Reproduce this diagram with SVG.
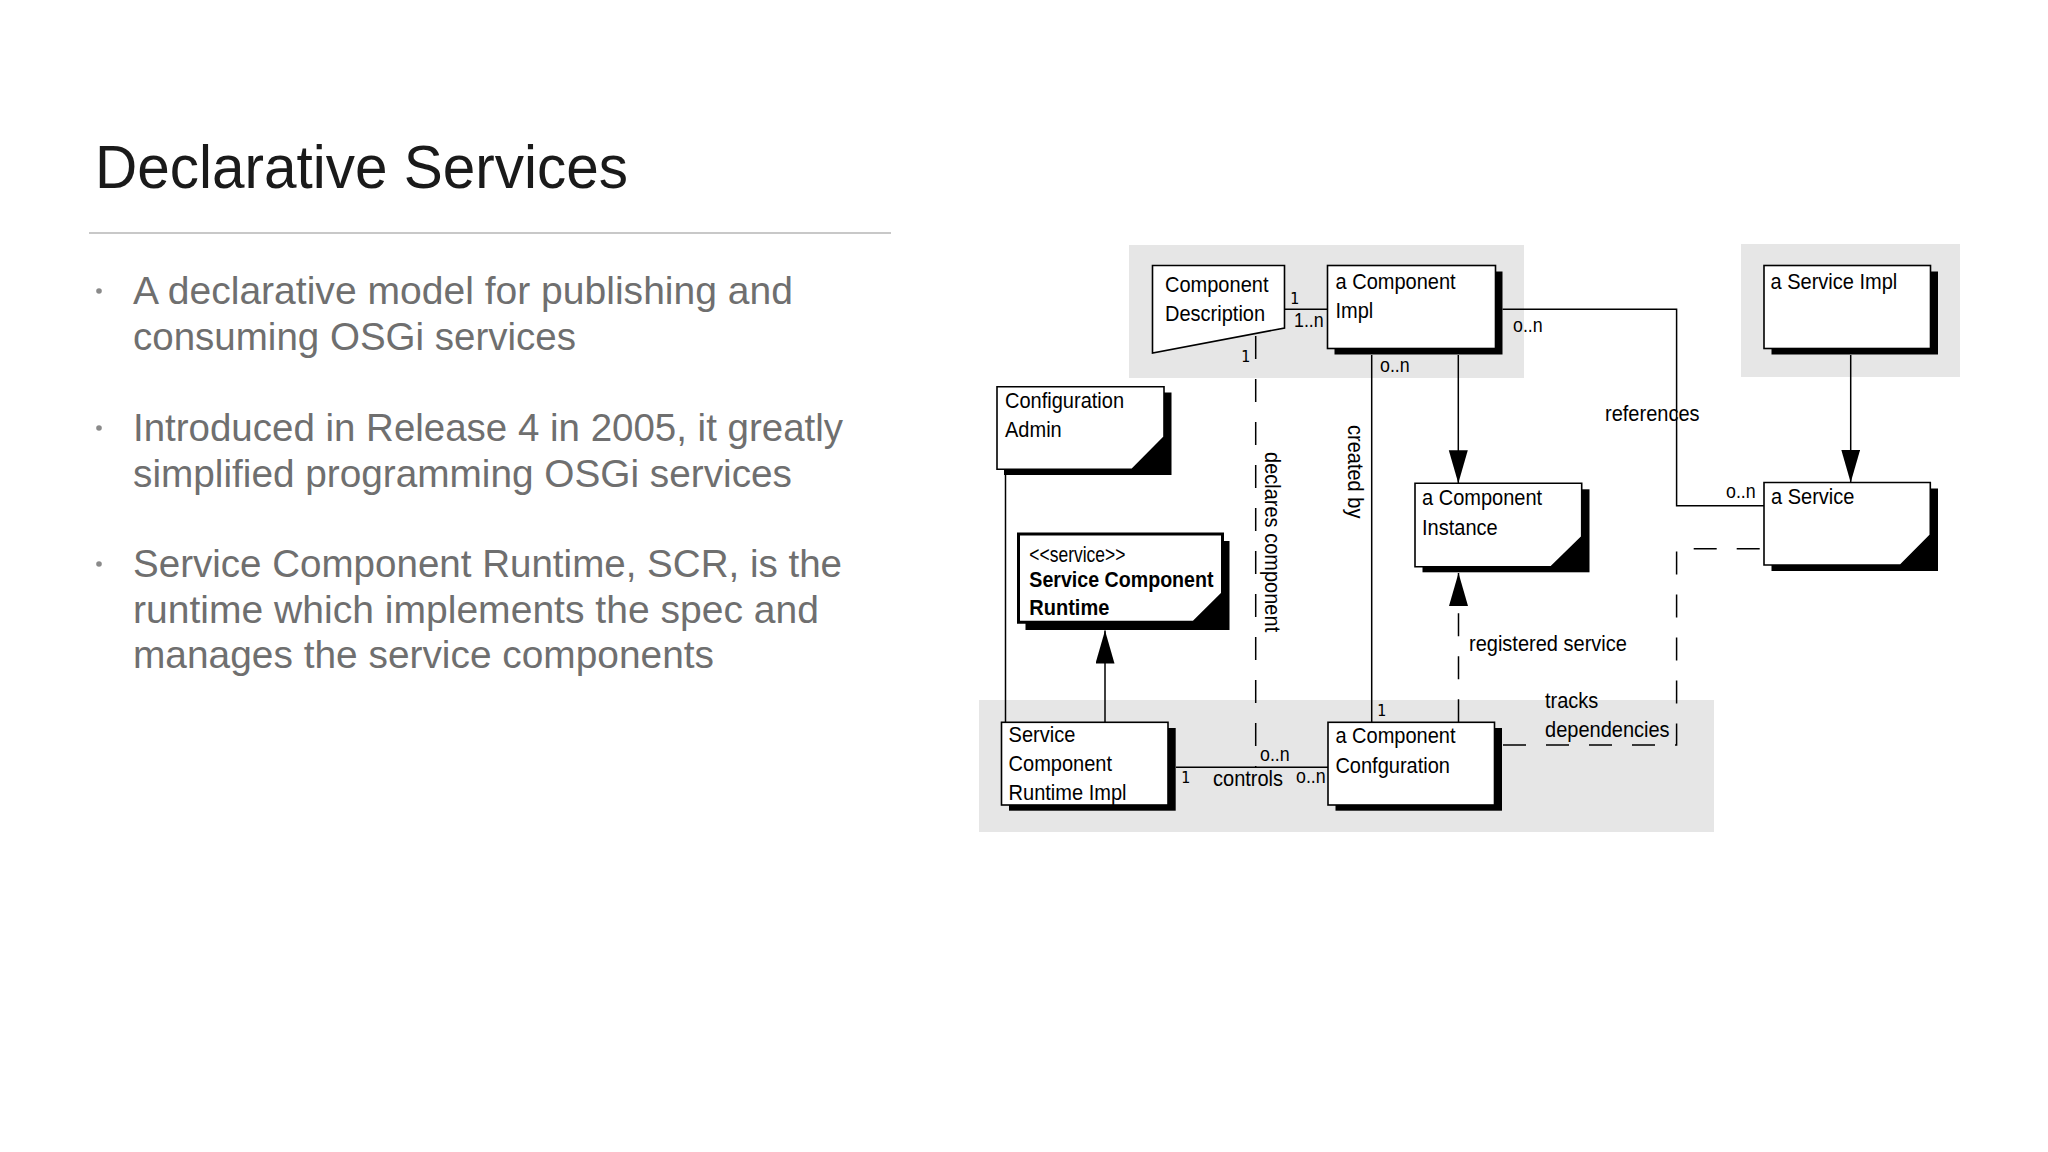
<svg xmlns="http://www.w3.org/2000/svg" width="2048" height="1152" viewBox="0 0 2048 1152">
<style>
.title{font-family:"Liberation Sans",Arial,sans-serif;font-size:62px;fill:#1a1a1a}
.body{font-family:"Liberation Sans",Arial,sans-serif;font-size:39px;fill:#6f6f6f}
.lbl{font-family:"Liberation Sans",Arial,sans-serif;font-size:22.5px;fill:#000}
.bold{font-weight:bold}
.small{font-family:"Liberation Sans",Arial,sans-serif;font-size:20px;fill:#000}
.one{font-family:"DejaVu Sans Mono","Liberation Mono",monospace;font-size:15px;fill:#000}
.box{fill:#fff;stroke:#000;stroke-width:1.6}
.thick{stroke-width:3}
.shadow{fill:#000}
.group{fill:#e6e6e6}
.line{fill:none;stroke:#000;stroke-width:1.5}
.dash{stroke-dasharray:23 20}
</style>
<defs>
<marker id="arrow" markerUnits="userSpaceOnUse" markerWidth="34" markerHeight="20" refX="33" refY="9.5" orient="auto">
<path d="M0,0 L33,9.5 L0,19 Z" fill="#000"/>
</marker>
</defs>
<rect width="2048" height="1152" fill="#fff"/>
<g id="slide-text">
<text class="title" x="95" y="188" textLength="533" lengthAdjust="spacingAndGlyphs">Declarative Services</text>
<line x1="89" y1="233" x2="891" y2="233" stroke="#c8c8c8" stroke-width="2"/>
<circle cx="99" cy="291" r="2.8" fill="#8a8a8a"/>
<text class="body" x="133" y="304" textLength="660" lengthAdjust="spacingAndGlyphs">A declarative model for publishing and</text>
<text class="body" x="133" y="349.5" textLength="443" lengthAdjust="spacingAndGlyphs">consuming OSGi services</text>
<circle cx="99" cy="428" r="2.8" fill="#8a8a8a"/>
<text class="body" x="133" y="441" textLength="710" lengthAdjust="spacingAndGlyphs">Introduced in Release 4 in 2005, it greatly</text>
<text class="body" x="133" y="486.5" textLength="659" lengthAdjust="spacingAndGlyphs">simplified programming OSGi services</text>
<circle cx="99" cy="564" r="2.8" fill="#8a8a8a"/>
<text class="body" x="133" y="577" textLength="709" lengthAdjust="spacingAndGlyphs">Service Component Runtime, SCR, is the</text>
<text class="body" x="133" y="622.5" textLength="686" lengthAdjust="spacingAndGlyphs">runtime which implements the spec and</text>
<text class="body" x="133" y="668" textLength="581" lengthAdjust="spacingAndGlyphs">manages the service components</text>
</g>
<g id="groups">
<rect class="group" x="1129" y="245" width="395" height="133"/>
<rect class="group" x="1741" y="244" width="219" height="133"/>
<rect class="group" x="979" y="700" width="735" height="132"/>
</g>
<g id="connectors">
<line class="line" x1="1284.5" y1="309.3" x2="1327.5" y2="309.3"/>
<line class="line" x1="1458.3" y1="355" x2="1458.3" y2="483.3" marker-end="url(#arrow)"/>
<polyline class="line" points="1502.5,309.3 1676.6,309.3 1676.6,505.7 1764,505.7"/>
<line class="line" x1="1850.7" y1="355" x2="1850.7" y2="482.5" marker-end="url(#arrow)"/>
<line class="line" x1="1371.7" y1="355" x2="1371.7" y2="722.3"/>
<line class="line" x1="1005.5" y1="475" x2="1005.5" y2="722.3"/>
<line class="line" x1="1105" y1="722.3" x2="1105" y2="630.5" marker-end="url(#arrow)"/>
<line class="line" x1="1176" y1="767.3" x2="1328" y2="767.3"/>
<line class="line dash" x1="1255.7" y1="336" x2="1255.7" y2="767.3"/>
<line class="line dash" x1="1458.5" y1="722.3" x2="1458.5" y2="573" marker-end="url(#arrow)"/>
<polyline class="line dash" points="1503,745 1676.6,745 1676.6,548.7 1764,548.7"/>
<text class="one" x="1290" y="304">1</text>
<text class="small" transform="translate(1294,327.3) scale(0.89,1)">1..n</text>
<text class="one" x="1241" y="361.7">1</text>
<text class="small" transform="translate(1513,331.7) scale(0.89,1)">o..n</text>
<text class="small" transform="translate(1380,371.7) scale(0.89,1)">o..n</text>
<text class="lbl" transform="translate(1605,421) scale(0.89,1)">references</text>
<text class="small" transform="translate(1726,498.3) scale(0.89,1)">o..n</text>
<text class="lbl" transform="translate(1469,651) scale(0.89,1)">registered service</text>
<text class="lbl" transform="translate(1545,708) scale(0.89,1)">tracks</text>
<text class="lbl" transform="translate(1545,737) scale(0.89,1)">dependencies</text>
<text class="one" x="1377" y="716">1</text>
<text class="small" transform="translate(1260,760.7) scale(0.89,1)">o..n</text>
<text class="one" x="1181" y="782.7">1</text>
<text class="lbl" transform="translate(1213,785.7) scale(0.89,1)">controls</text>
<text class="small" transform="translate(1296,782.7) scale(0.89,1)">o..n</text>
<text class="lbl" transform="translate(1348,425) rotate(90) scale(0.89,1)">created by</text>
<text class="lbl" transform="translate(1265,452) rotate(90) scale(0.89,1)">declares component</text>
</g>
<g id="component-description">
<polygon class="box" points="1152.5,265.5 1284.5,265.5 1284.5,328 1152.5,353"/>
<text class="lbl" transform="translate(1165,292) scale(0.89,1)">Component</text>
<text class="lbl" transform="translate(1165,321) scale(0.89,1)">Description</text>
</g>
<g id="component-impl">
<rect class="shadow" x="1334.5" y="271.5" width="168" height="83"/>
<rect class="box" x="1327.5" y="265.5" width="168" height="83"/>
<text class="lbl" transform="translate(1335.5,288.5) scale(0.89,1)">a Component</text>
<text class="lbl" transform="translate(1335.5,317.5) scale(0.89,1)">Impl</text>
</g>
<g id="service-impl">
<rect class="shadow" x="1771.5" y="271.5" width="166.5" height="83"/>
<rect class="box" x="1764" y="265.5" width="166.5" height="83"/>
<text class="lbl" transform="translate(1770.5,288.5) scale(0.89,1)">a Service Impl</text>
</g>
<g id="configuration-admin">
<rect class="shadow" x="1004" y="392.5" width="167.5" height="82.5"/>
<polygon class="box" points="997,386.7 1164,386.7 1164,437 1132,469.3 997,469.3"/>
<text class="lbl" transform="translate(1005,408.3) scale(0.89,1)">Configuration</text>
<text class="lbl" transform="translate(1005,437.3) scale(0.89,1)">Admin</text>
</g>
<g id="service-component-runtime">
<rect class="shadow" x="1025.5" y="541" width="204" height="89"/>
<polygon class="box thick" points="1018.5,534 1222.5,534 1222.5,593.5 1193.5,622.3 1018.5,622.3"/>
<text class="lbl" transform="translate(1029.3,561.7) scale(0.89,1)" textLength="108" lengthAdjust="spacingAndGlyphs">&lt;&lt;service&gt;&gt;</text>
<text class="lbl bold" transform="translate(1029.3,587.3) scale(0.89,1)" textLength="207" lengthAdjust="spacingAndGlyphs">Service Component</text>
<text class="lbl bold" transform="translate(1029.3,615) scale(0.89,1)">Runtime</text>
</g>
<g id="component-instance">
<rect class="shadow" x="1422.5" y="489.3" width="167" height="83"/>
<polygon class="box" points="1415,483.3 1581.7,483.3 1581.7,536.7 1551,566.7 1415,566.7"/>
<text class="lbl" transform="translate(1422,505) scale(0.89,1)">a Component</text>
<text class="lbl" transform="translate(1422,535) scale(0.89,1)">Instance</text>
</g>
<g id="service">
<rect class="shadow" x="1771.5" y="488.5" width="166.5" height="82.5"/>
<polygon class="box" points="1764,482.5 1930.3,482.5 1930.3,535 1900.5,565 1764,565"/>
<text class="lbl" transform="translate(1771,504) scale(0.89,1)">a Service</text>
</g>
<g id="scr-impl">
<rect class="shadow" x="1009" y="728" width="166.7" height="82.7"/>
<rect class="box" x="1001.5" y="722.3" width="166.5" height="82.7"/>
<text class="lbl" transform="translate(1008.6,741.7) scale(0.89,1)">Service</text>
<text class="lbl" transform="translate(1008.6,771) scale(0.89,1)">Component</text>
<text class="lbl" transform="translate(1008.6,800) scale(0.89,1)">Runtime Impl</text>
</g>
<g id="component-configuration">
<rect class="shadow" x="1335.5" y="728" width="166.5" height="82.7"/>
<rect class="box" x="1328" y="722.3" width="166.5" height="82.7"/>
<text class="lbl" transform="translate(1335.4,743.3) scale(0.89,1)">a Component</text>
<text class="lbl" transform="translate(1335.4,772.7) scale(0.89,1)">Confguration</text>
</g>
</svg>
